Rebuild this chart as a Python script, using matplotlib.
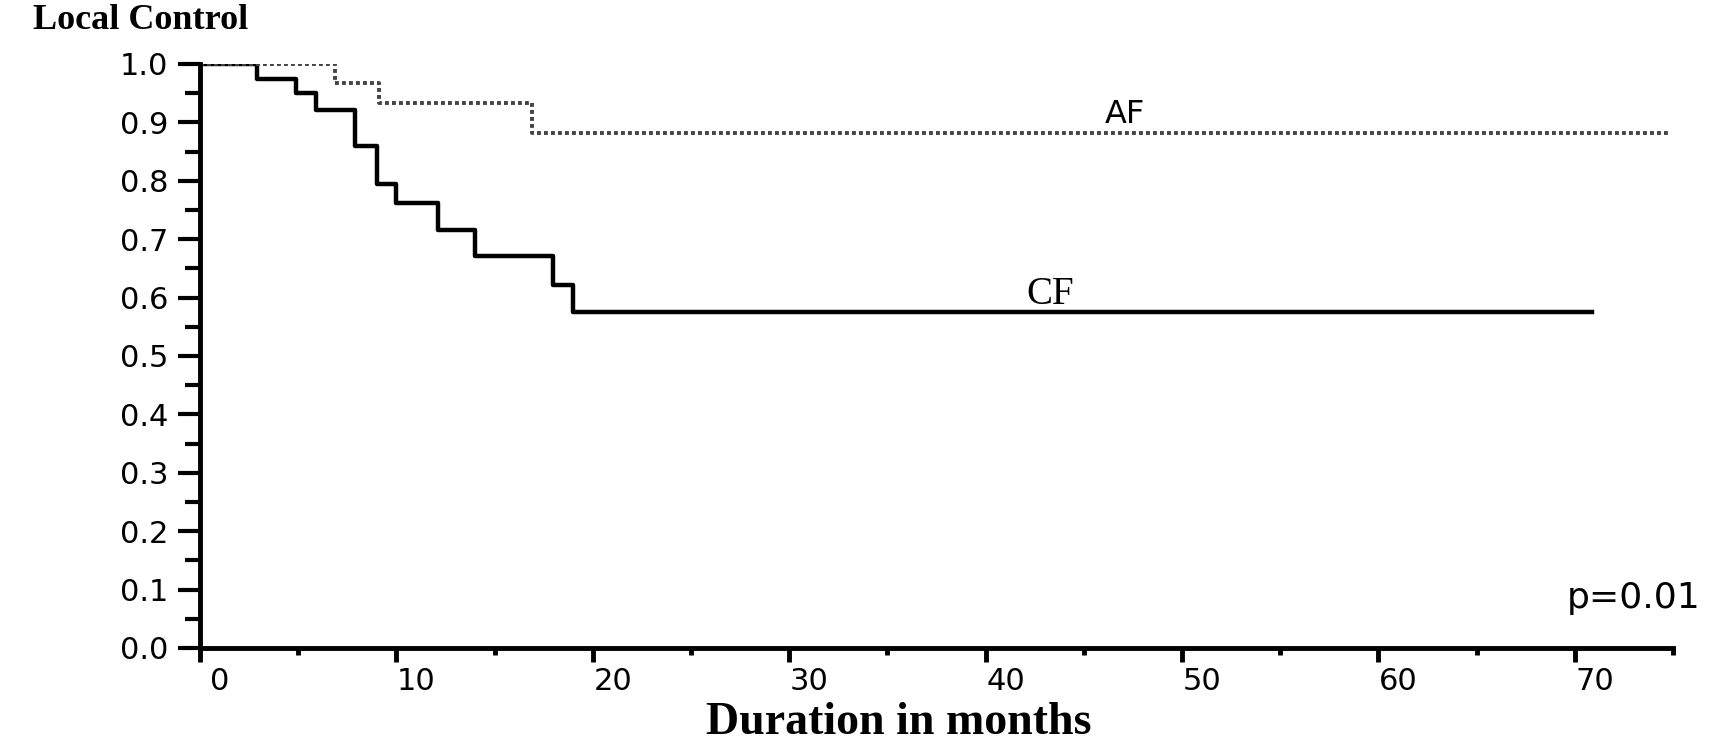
import matplotlib.pyplot as plt
import matplotlib.transforms as mtransforms
import numpy as np

# Kaplan-Meier step data (months, local control)
cf_months = [0, 2.9, 4.9, 5.9, 7.9, 9.0, 10.0, 12.1, 14.0, 18.0, 19.0, 70.9]
cf_control = [1.0, 0.974, 0.950, 0.921, 0.860, 0.795, 0.762, 0.716, 0.671, 0.622, 0.575, 0.575]

af_months = [0, 6.9, 9.1, 16.9, 74.8]
af_control = [1.0, 0.967, 0.933, 0.882, 0.882]

x_ticks = [0, 10, 20, 30, 40, 50, 60, 70]
y_ticks = [0.0, 0.1, 0.2, 0.3, 0.4, 0.5, 0.6, 0.7, 0.8, 0.9, 1.0]

fig = plt.figure(figsize=(17.15, 7.43), dpi=100)
ax = fig.add_axes([0.1166, 0.1279, 0.8589, 0.786])

ax.step(cf_months, cf_control, where='post', color='black', lw=3.2)
ax.step(af_months, af_control, where='post', color='#444444', lw=2.8,
        linestyle=(0, (1, 0.8)))

ax.set_xlim(0, 75)
ax.set_ylim(0, 1.0)

for side in ['top', 'right']:
    ax.spines[side].set_visible(False)
for side in ['left', 'bottom']:
    ax.spines[side].set_linewidth(3.5)

ax.set_xticks(x_ticks)
ax.set_xticks(np.arange(5, 76, 10), minor=True)
ax.set_yticks(y_ticks)
ax.set_yticks(np.arange(0.05, 1.0, 0.1), minor=True)
ax.set_yticklabels([f"{v:.1f}" for v in y_ticks], family='DejaVu Sans', fontsize=22)
ax.set_xticklabels([str(v) for v in x_ticks], family='DejaVu Sans', fontsize=22)

ax.tick_params(axis='y', which='major', length=16, width=3, direction='out', pad=7)
ax.tick_params(axis='y', which='minor', length=11, width=3, direction='out')
ax.tick_params(axis='x', which='major', length=10, width=3.5, direction='out', pad=4)
ax.tick_params(axis='x', which='minor', length=5, width=3.5, direction='out')

# x labels in the original sit a little right of their ticks
offset = mtransforms.ScaledTranslation(0.2, 0, fig.dpi_scale_trans)
for lab in ax.get_xticklabels():
    lab.set_transform(lab.get_transform() + offset)

ax.text(47.1, 0.913, 'AF', family='DejaVu Sans', fontsize=23, ha='center', va='center')
ax.text(43.3, 0.606, 'CF', family='Liberation Serif', fontsize=28, ha='center', va='center')
ax.text(76.4, 0.085, 'p=0.01', family='DejaVu Sans', fontsize=26, ha='right', va='center')

fig.text(0.019, 0.973, 'Local Control', family='Liberation Serif', fontweight='bold',
         fontsize=26, ha='left', va='center')
fig.text(0.524, 0.027, 'Duration in months', family='Liberation Serif', fontweight='bold',
         fontsize=33, ha='center', va='center')

fig.savefig('out.png', dpi=100)
